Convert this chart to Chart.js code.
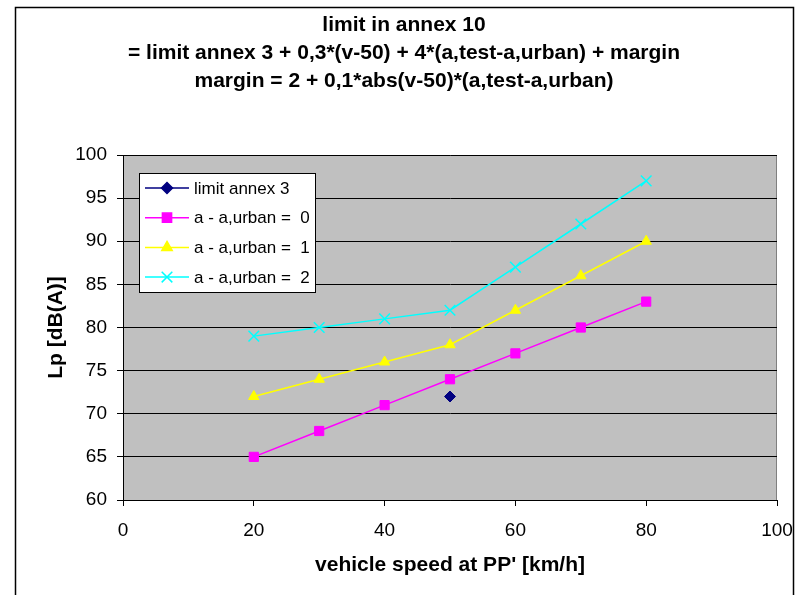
<!DOCTYPE html>
<html lang="en">
<head>
  <meta charset="UTF-8" />
  <title>limit in annex 10</title>
  <script src="https://cdn.jsdelivr.net/npm/chart.js"></script>
  <style>
    body { margin: 0; background: #fff; }
    canvas { display: block; }
  </style>
</head>
<body>
<canvas id="chart" width="801" height="595"></canvas>
<script>
  // values
  const speeds = [20, 30, 40, 50, 60, 70, 80];
  const limitAnnex3Speed = [50];
  const limitAnnex3 = [72];
  const diff0 = [65, 68, 71, 74, 77, 80, 83];
  const diff1 = [72, 74, 76, 78, 82, 86, 90];
  const diff2 = [79, 80, 81, 82, 87, 92, 97];

  const seriesNames = ['limit annex 3', 'a - a,urban =  0', 'a - a,urban =  1', 'a - a,urban =  2'];
  const titleLines = [
    'limit in annex 10',
    '= limit annex 3 + 0,3*(v-50) + 4*(a,test-a,urban) + margin',
    'margin = 2 + 0,1*abs(v-50)*(a,test-a,urban)'
  ];

  const pts = (xs, ys) => xs.map((x, i) => ({ x: x, y: ys[i] }));
  const FONT = 'Liberation Sans, Arial, sans-serif';

  // grey plot area + outer frame
  const frame = {
    id: 'frame',
    beforeDraw(chart) {
      const { ctx, chartArea: a } = chart;
      ctx.save();
      ctx.fillStyle = '#c0c0c0';
      ctx.fillRect(a.left, a.top, a.right - a.left, a.bottom - a.top);
      ctx.strokeStyle = '#808080';
      ctx.lineWidth = 1;
      ctx.strokeRect(a.left + 0.5, a.top + 0.5, a.right - a.left - 1, a.bottom - a.top);
      ctx.strokeStyle = '#000';
      ctx.lineWidth = 1.5;
      ctx.strokeRect(15.5, 7.5, 778, 600);
      ctx.restore();
    }
  };

  // legend box sitting inside the plot, like the Excel original
  const innerLegend = {
    id: 'innerLegend',
    afterDraw(chart) {
      const { ctx } = chart;
      const x = 139, y = 173, w = 176, h = 119;
      ctx.save();
      ctx.fillStyle = '#fff';
      ctx.fillRect(x, y, w, h);
      ctx.strokeStyle = '#000';
      ctx.lineWidth = 1;
      ctx.strokeRect(x + 0.5, y + 0.5, w, h);
      chart.data.datasets.forEach((ds, i) => {
        const cy = y + 15 + i * 29.7;
        ctx.strokeStyle = ds.borderColor;
        ctx.lineWidth = 1.5;
        ctx.beginPath();
        ctx.moveTo(x + 6, cy);
        ctx.lineTo(x + 50, cy);
        ctx.stroke();
        ctx.fillStyle = ds.pointBackgroundColor;
        ctx.strokeStyle = ds.pointBorderColor;
        Chart.helpers.drawPoint(ctx, {
          pointStyle: ds.pointStyle,
          radius: ds.pointRadius,
          borderWidth: ds.pointBorderWidth || 1,
          rotation: 0
        }, x + 28, cy);
        ctx.fillStyle = '#000';
        ctx.font = '17px ' + FONT;
        ctx.textBaseline = 'middle';
        ctx.textAlign = 'left';
        ctx.fillText(ds.label, x + 55, cy + 1);
      });
      ctx.restore();
    }
  };

  function series(label, xs, ys, color, style, radius, showLine) {
    return {
      label: label,
      data: pts(xs, ys),
      borderColor: color,
      backgroundColor: color,
      pointBackgroundColor: color,
      pointBorderColor: color,
      pointStyle: style,
      pointRadius: radius,
      pointHoverRadius: radius,
      pointBorderWidth: style === 'crossRot' ? 1.5 : 1,
      borderWidth: 1.5,
      showLine: showLine
    };
  }

  new Chart(document.getElementById('chart'), {
    type: 'scatter',
    data: {
      datasets: [
        series(seriesNames[0], limitAnnex3Speed, limitAnnex3, '#000080', 'rectRot', 5.5, false),
        series(seriesNames[1], speeds, diff0, '#ff00ff', 'rect', 6.5, true),
        series(seriesNames[2], speeds, diff1, '#ffff00', 'triangle', 6, true),
        series(seriesNames[3], speeds, diff2, '#00ffff', 'crossRot', 7.5, true)
      ]
    },
    options: {
      responsive: false,
      animation: false,
      layout: { padding: { left: 31, right: 24, top: 0, bottom: 0 } },
      plugins: {
        legend: { display: false },
        tooltip: { enabled: false },
        title: {
          display: true,
          text: titleLines,
          color: '#000',
          font: { family: FONT, size: 21, weight: 'bold', lineHeight: 28 / 21 },
          padding: { top: 11, bottom: 60 }
        }
      },
      scales: {
        x: {
          type: 'linear',
          min: 0, max: 100,
          afterFit(s) { s.height = 95; s.paddingRight = 0; s.paddingLeft = 0; },
          border: { color: '#000', width: 1 },
          grid: { drawOnChartArea: false, drawTicks: true, tickLength: 6, color: '#000' },
          ticks: { stepSize: 20, color: '#000', padding: 13, font: { family: FONT, size: 19 } },
          title: {
            display: true,
            text: "vehicle speed at PP' [km/h]",
            color: '#000',
            font: { family: FONT, size: 21, weight: 'bold' },
            padding: { top: 0, bottom: 17 }
          }
        },
        y: {
          type: 'linear',
          min: 60, max: 100,
          afterFit(s) { s.width = 92; },
          border: { color: '#000', width: 1 },
          grid: { color: '#000', lineWidth: 1, tickLength: 6 },
          ticks: { stepSize: 5, color: '#000', padding: 10, font: { family: FONT, size: 19 } },
          title: {
            display: true,
            text: 'Lp [dB(A)]',
            color: '#000',
            font: { family: FONT, size: 21, weight: 'bold' },
            padding: { top: 13, bottom: 0 }
          }
        }
      }
    },
    plugins: [frame, innerLegend]
  });
</script>
</body>
</html>
